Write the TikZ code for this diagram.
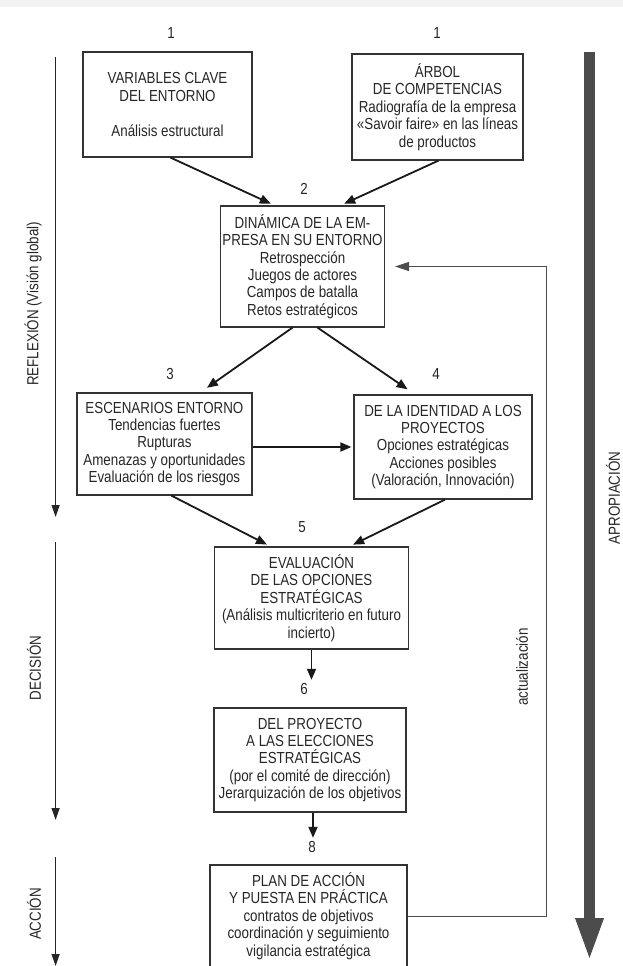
\documentclass[tikz,border=0pt]{standalone}
\usepackage{fontspec}
\setmainfont{Liberation Sans}[FakeStretch=0.835]
\usepackage{xcolor}
\usepackage{tikz}
\usetikzlibrary{arrows.meta, positioning, calc}

\newcommand{\diagfont}{\fontsize{16}{17.4}\selectfont}

\begin{document}
\begin{tikzpicture}[
        x=1pt, y=-1pt,
        font=\diagfont,
        text=black!85,
        >={Triangle[length=11pt,width=9pt]},
        stagebox/.style={draw=black!80, line width=1.2pt, align=center, inner sep=0pt},
        flow/.style={->, line width=1.8pt, black!90},
        phase/.style={-{Triangle[length=12pt,width=8pt]}, line width=1.3pt, black!85},
        phaselabel/.style={rotate=90, anchor=center},
        update/.style={-{Triangle[length=14pt,width=9pt]}, line width=0.9pt, black!70},
        num/.style={anchor=center},
    ]

    % --- frame ---
    \useasboundingbox (0,0) rectangle (623,966);
    \clip (0,0) rectangle (623,966);
    \fill[black!5] (0,0) rectangle (623,7);

    % --- stage boxes ---
    \node[stagebox, minimum width=169pt, minimum height=105pt] (vars) at (167.5,104.5)
        {VARIABLES CLAVE\\DEL ENTORNO\\[17.4pt]Análisis estructural};
    \node[stagebox, minimum width=171pt, minimum height=106pt] (tree) at (437.5,107)
        {ÁRBOL\\DE COMPETENCIAS\\Radiografía de la empresa\\«Savoir faire» en las líneas\\de productos};
    \node[stagebox, minimum width=164pt, minimum height=121pt] (dyn) at (302.5,266.5)
        {DINÁMICA DE LA EM-\\PRESA EN SU ENTORNO\\Retrospección\\Juegos de actores\\Campos de batalla\\Retos estratégicos};
    \node[stagebox, minimum width=175pt, minimum height=102pt] (scen) at (164.4,444)
        {ESCENARIOS ENTORNO\\Tendencias fuertes\\Rupturas\\Amenazas y oportunidades\\Evaluación de los riesgos};
    \node[stagebox, minimum width=178pt, minimum height=104pt] (ident) at (443,447)
        {DE LA IDENTIDAD A LOS\\PROYECTOS\\Opciones estratégicas\\Acciones posibles\\(Valoración, Innovación)};
    \node[stagebox, minimum width=194pt, minimum height=102pt] (eval) at (311.5,598)
        {EVALUACIÓN\\DE LAS OPCIONES\\ESTRATÉGICAS\\(Análisis multicriterio en futuro\\incierto)};
    \node[stagebox, minimum width=192pt, minimum height=104pt] (proj) at (310,760)
        {DEL PROYECTO\\A LAS ELECCIONES\\ESTRATÉGICAS\\(por el comité de dirección)\\Jerarquización de los objetivos};
    \node[stagebox, minimum width=197pt, minimum height=102pt] (plan) at (308.5,916)
        {PLAN DE ACCIÓN\\Y PUESTA EN PRÁCTICA\\contratos de objetivos\\coordinación y seguimiento\\vigilancia estratégica};

    % --- step numbers ---
    \node[num] (n1a) at (171,33) {1};
    \node[num] (n1b) at (437,33) {1};
    \node[num] (n2) at (304,189) {2};
    \node[num] (n3) at (170,374) {3};
    \node[num] (n4) at (436,374) {4};
    \node[num] (n5) at (302,527) {5};
    \node[num] (n6) at (304,689) {6};
    \node[num] (n8) at (312,847) {8};

    % --- flow between stages ---
    \draw[flow, shorten >=4pt] ([xshift=3pt]vars.south) -- ([xshift=-28pt]dyn.north);
    \draw[flow, shorten >=4pt] ([xshift=1pt]tree.south) -- ([xshift=38pt]dyn.north);
    \draw[flow, shorten >=8pt] ([xshift=-10pt]dyn.south) -- ([xshift=36pt]scen.north);
    \draw[flow, shorten >=9pt] ([xshift=15pt]dyn.south) -- ([xshift=-28pt]ident.north);
    \draw[flow, shorten >=2pt] ([yshift=-3pt]scen.east) -- ([yshift=-3pt]scen.east -| ident.west);
    \draw[flow, shorten >=4pt] ([xshift=7pt]scen.south) -- ([xshift=-41pt]eval.north);
    \draw[flow, shorten >=4pt] ([xshift=2pt]ident.south) -- ([xshift=38pt]eval.north);
    \draw[flow] (eval.south) -- (eval.south |- n6.north);
    \draw[flow] ([xshift=3pt]proj.south) -- ([xshift=3pt]proj.south |- n8.north);

    % --- feedback loop ---
    \coordinate (loop) at (546,600);
    \draw[update, shorten >=10pt] (plan.east) -- (plan.east -| loop) -- (loop |- dyn.east) -- (dyn.east);
    \node[phaselabel] (upd) at (522,667) {actualización};

    % --- phases on the left ---
    \coordinate (reflA) at (55.6,57);
    \coordinate (reflB) at (55.6,517);
    \coordinate (decA) at (55.6,542);
    \coordinate (decB) at (55.6,820);
    \coordinate (actA) at (55.6,857);
    \coordinate (actB) at (55.6,966);
    \draw[phase] (reflA) -- (reflB);
    \draw[phase] (decA) -- (decB);
    \draw[phase] (actA) -- (actB);
    \node[phaselabel] (refl) at (33,304) {REFLEXIÓN (Visión global)};
    \node[phaselabel] (dec) at (34,668) {DECISIÓN};
    \node[phaselabel] (act) at (34,914) {ACCIÓN};

    % --- appropriation arrow on the right ---
    \coordinate (aprA) at (589.5,52);
    \coordinate (aprB) at (589.5,962);
    \draw[-{Triangle[length=44pt,width=25pt]}, line width=11pt, black!70] (aprA) -- (aprB);
    \node[phaselabel, inner sep=1pt] (apr) at (613,498) {APROPIACIÓN};

\end{tikzpicture}
\end{document}
